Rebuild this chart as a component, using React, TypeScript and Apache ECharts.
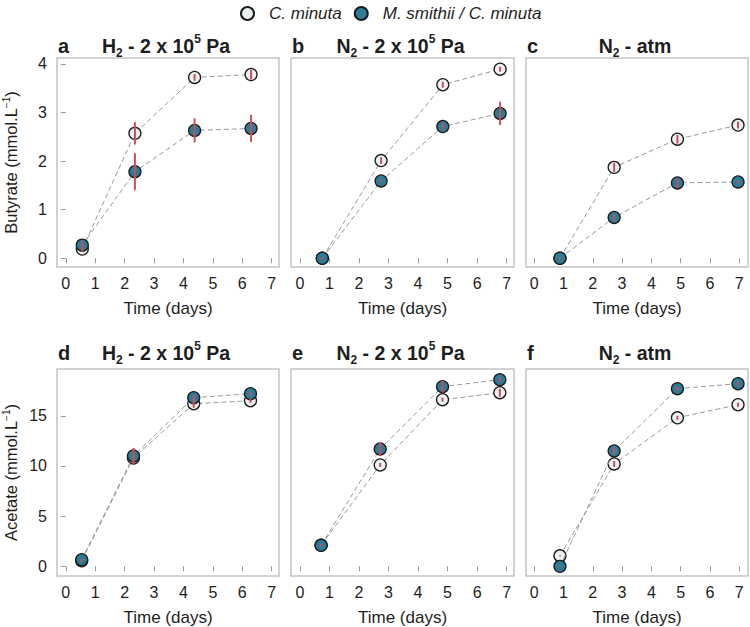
import React, { useEffect, useRef } from "react";
import * as echarts from "echarts";

// ---- data ----
const SERIES_CM = "C. minuta";
const SERIES_MS = "M. smithii / C. minuta";

const xTicks = [0, 1, 2, 3, 4, 5, 6, 7];
const butyrateTicks = [0, 1, 2, 3, 4];
const acetateTicks = [0, 5, 10, 15];

// days per panel
const daysA = [0.56, 2.35, 4.38, 6.3];
const daysB = [0.76, 2.75, 4.84, 6.78];
const daysC = [0.88, 2.73, 4.89, 6.96];
const daysD = [0.54, 2.3, 4.35, 6.28];
const daysE = [0.72, 2.72, 4.83, 6.77];
const daysF = [0.88, 2.73, 4.89, 6.96];

// Butyrate (mmol/L)
const aCm = [0.19, 2.57, 3.72, 3.78];
const aCmErr = [0.05, 0.23, 0.07, 0.1];
const aMs = [0.27, 1.78, 2.63, 2.67];
const aMsErr = [0.08, 0.38, 0.25, 0.28];

const bCm = [0.0, 2.01, 3.57, 3.89];
const bCmErr = [0.02, 0.07, 0.06, 0.05];
const bMs = [0.0, 1.59, 2.71, 2.98];
const bMsErr = [0.02, 0.03, 0.07, 0.24];

const cCm = [0.0, 1.87, 2.45, 2.74];
const cCmErr = [0.02, 0.09, 0.09, 0.07];
const cMs = [0.0, 0.84, 1.55, 1.57];
const cMsErr = [0.02, 0.07, 0.1, 0.03];

// Acetate (mmol/L)
const dCm = [0.55, 10.8, 16.2, 16.5];
const dCmErr = [0.1, 0.4, 0.4, 0.2];
const dMs = [0.66, 11.0, 16.8, 17.2];
const dMsErr = [0.1, 0.8, 0.3, 0.2];

const eCm = [2.1, 10.1, 16.6, 17.3];
const eCmErr = [0.1, 0.2, 0.2, 0.4];
const eMs = [2.1, 11.7, 17.9, 18.6];
const eMsErr = [0.1, 0.7, 0.6, 0.2];

const fCm = [1.05, 10.2, 14.8, 16.1];
const fCmErr = [0.05, 0.3, 0.2, 0.2];
const fMs = [0.0, 11.5, 17.7, 18.2];
const fMsErr = [0.05, 0.4, 0.2, 0.2];

const panelLetters = ["a", "b", "c", "d", "e", "f"];
const panelTitles = [
  "{b|H}{sub|2}{b| - 2 x 10}{sup|5}{b| Pa}",
  "{b|N}{sub|2}{b| - 2 x 10}{sup|5}{b| Pa}",
  "{b|N}{sub|2}{b| - atm}",
  "{b|H}{sub|2}{b| - 2 x 10}{sup|5}{b| Pa}",
  "{b|N}{sub|2}{b| - 2 x 10}{sup|5}{b| Pa}",
  "{b|N}{sub|2}{b| - atm}",
];

const panels = [
  { days: daysA, cm: aCm, cmErr: aCmErr, ms: aMs, msErr: aMsErr },
  { days: daysB, cm: bCm, cmErr: bCmErr, ms: bMs, msErr: bMsErr },
  { days: daysC, cm: cCm, cmErr: cCmErr, ms: cMs, msErr: cMsErr },
  { days: daysD, cm: dCm, cmErr: dCmErr, ms: dMs, msErr: dMsErr },
  { days: daysE, cm: eCm, cmErr: eCmErr, ms: eMs, msErr: eMsErr },
  { days: daysF, cm: fCm, cmErr: fCmErr, ms: fMs, msErr: fMsErr },
];

// ---- styles ----
const FONT = "'Liberation Sans', Arial, Helvetica, sans-serif";
const TEAL = "#2b7b99";
const LIGHT = "#edf1f1";
const EDGE = "#1c1c1c";
const DASH = "#999999";
const ERR = "#c8505a";
const FRAME = "#c4c4c4";
const TEXT = "#1e1e1e";

const grids = [
  { left: 57, top: 58, width: 222, height: 209 },
  { left: 291, top: 58, width: 223, height: 209 },
  { left: 526, top: 58, width: 222, height: 209 },
  { left: 57, top: 369, width: 222, height: 208 },
  { left: 291, top: 369, width: 223, height: 208 },
  { left: 526, top: 369, width: 222, height: 208 },
];

function buildOption() {
  const grid = grids.map((g) => ({
    ...g,
    show: true,
    borderColor: FRAME,
    borderWidth: 1.5,
    backgroundColor: "#fff",
    containLabel: false,
  }));

  const xAxis = grids.map((_, i) => ({
    type: "value",
    gridIndex: i,
    min: i % 3 === 2 ? -0.28 : -0.3,
    max: i % 3 === 2 ? 7.3 : 7.25,
    offset: 2,
    axisLine: { show: false },
    splitLine: { show: false },
    axisTick: {
      show: true,
      length: 5,
      customValues: xTicks,
      lineStyle: { color: "#9a9a9a", width: 1 },
    },
    axisLabel: {
      show: true,
      customValues: xTicks,
      margin: 6,
      fontSize: 16,
      color: TEXT,
      fontFamily: FONT,
    },
    name: "Time (days)",
    nameLocation: "middle",
    nameGap: 31,
    nameTextStyle: { fontSize: 17, color: TEXT, fontFamily: FONT },
  }));

  const yAxis = grids.map((_, i) => {
    const top = i < 3;
    const first = i % 3 === 0;
    const ticks = top ? butyrateTicks : acetateTicks;
    return {
      type: "value",
      gridIndex: i,
      min: top ? -0.18 : -0.96,
      max: top ? 4.12 : 19.66,
      offset: 2,
      axisLine: { show: false },
      splitLine: { show: false },
      axisTick: {
        show: first,
        length: 5,
        customValues: ticks,
        lineStyle: { color: "#9a9a9a", width: 1 },
      },
      axisLabel: {
        show: first,
        customValues: ticks,
        margin: 8,
        fontSize: 16,
        color: TEXT,
        fontFamily: FONT,
      },
      name: first
        ? top
          ? "{a|Butyrate (mmol.L}{s|−1}{a|)}"
          : "{a|Acetate (mmol.L}{s|−1}{a|)}"
        : "",
      nameLocation: "middle",
      nameGap: 34,
      nameTextStyle: {
        fontFamily: FONT,
        color: TEXT,
        rich: {
          a: { fontSize: 16.5, lineHeight: 20, color: TEXT, fontFamily: FONT },
          s: {
            fontSize: 10,
            lineHeight: 12,
            verticalAlign: "top",
            color: TEXT,
            fontFamily: FONT,
          },
        },
      },
    };
  });

  const series: any[] = [];
  const errSeries = (idx: number, days: number[], vals: number[], errs: number[]) => ({
    type: "custom",
    xAxisIndex: idx,
    yAxisIndex: idx,
    z: 10,
    silent: true,
    data: days.map((d, k) => [d, vals[k], errs[k]]),
    encode: { x: 0, y: 1 },
    renderItem: (params: any, api: any) => {
      const x = api.value(0);
      const y = api.value(1);
      const e = api.value(2);
      const p1 = api.coord([x, y + e]);
      const p2 = api.coord([x, y - e]);
      return {
        type: "line",
        shape: { x1: p1[0], y1: p1[1], x2: p2[0], y2: p2[1] },
        style: { stroke: ERR, lineWidth: 2 },
      };
    },
  });

  panels.forEach((p, i) => {
    series.push({
      type: "line",
      name: SERIES_CM,
      xAxisIndex: i,
      yAxisIndex: i,
      z: 2,
      data: p.days.map((d, k) => [d, p.cm[k]]),
      symbol: "circle",
      symbolSize: 12,
      showSymbol: true,
      lineStyle: { color: DASH, width: 1, type: [5, 3] },
      itemStyle: { color: LIGHT, borderColor: EDGE, borderWidth: 1.3 },
    });
    series.push({
      type: "line",
      name: SERIES_MS,
      xAxisIndex: i,
      yAxisIndex: i,
      z: 3,
      data: p.days.map((d, k) => [d, p.ms[k]]),
      symbol: "circle",
      symbolSize: 12,
      showSymbol: true,
      lineStyle: { color: DASH, width: 1, type: [5, 3] },
      itemStyle: { color: TEAL, borderColor: EDGE, borderWidth: 1.3 },
    });
    series.push(errSeries(i, p.days, p.cm, p.cmErr));
    series.push(errSeries(i, p.days, p.ms, p.msErr));
  });

  const graphic: any[] = [];
  grids.forEach((g, i) => {
    const cy = i < 3 ? 46 : 353;
    graphic.push({
      type: "text",
      x: g.left + 1,
      y: cy,
      style: {
        text: panelLetters[i],
        fontSize: 20,
        fontWeight: "bold",
        fontFamily: FONT,
        fill: TEXT,
        align: "left",
        verticalAlign: "middle",
      },
    });
    graphic.push({
      type: "text",
      x: g.left + g.width / 2 - 2,
      y: cy,
      style: {
        text: panelTitles[i],
        align: "center",
        verticalAlign: "middle",
        fill: TEXT,
        rich: {
          b: { fontSize: 19.5, fontWeight: "bold", fontFamily: FONT, fill: TEXT, lineHeight: 26 },
          sub: {
            fontSize: 12,
            fontWeight: "bold",
            fontFamily: FONT,
            fill: TEXT,
            lineHeight: 14,
            verticalAlign: "bottom",
          },
          sup: {
            fontSize: 12,
            fontWeight: "bold",
            fontFamily: FONT,
            fill: TEXT,
            lineHeight: 16,
            verticalAlign: "top",
          },
        },
      },
    });
  });

  return {
    animation: false,
    backgroundColor: "#fff",
    legend: {
      data: [SERIES_CM, SERIES_MS],
      top: 0,
      left: 235,
      icon: "circle",
      itemWidth: 33,
      itemHeight: 13,
      itemGap: 12,
      textStyle: {
        fontStyle: "italic",
        fontSize: 17,
        color: TEXT,
        fontFamily: FONT,
      },
    },
    grid,
    xAxis,
    yAxis,
    series,
    graphic,
  };
}

export default function App() {
  const ref = useRef<HTMLDivElement>(null);
  useEffect(() => {
    if (!ref.current) return;
    const chart = echarts.init(ref.current, undefined, { renderer: "svg" });
    chart.setOption(buildOption() as any);
    return () => chart.dispose();
  }, []);
  return (
    <div
      ref={ref}
      style={{ position: "fixed", left: 0, top: 0, width: 750, height: 627, background: "#fff" }}
    />
  );
}
